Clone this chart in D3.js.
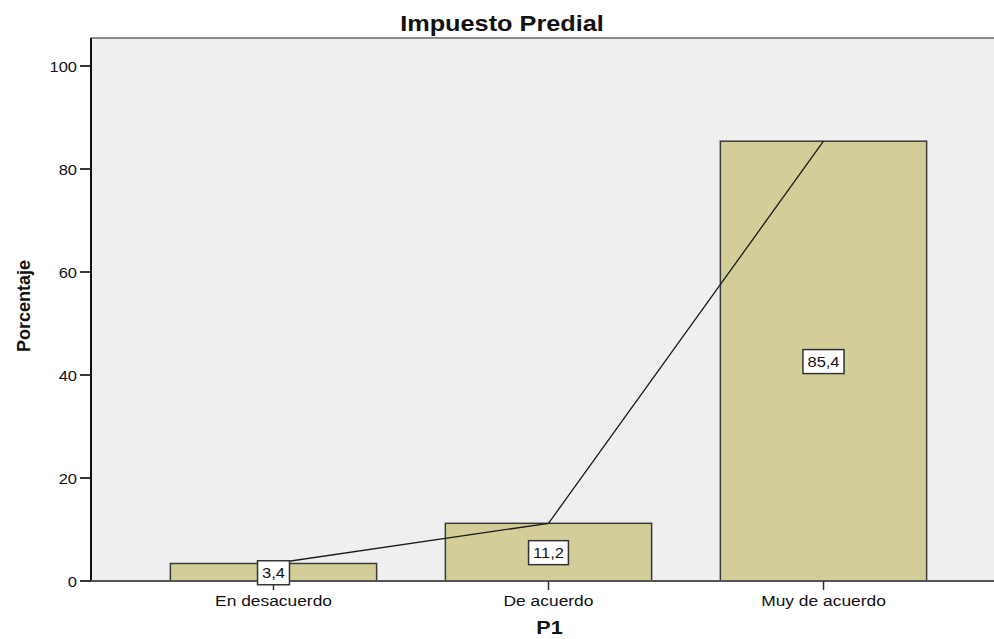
<!DOCTYPE html>
<html><head><meta charset="utf-8">
<script src="https://cdn.jsdelivr.net/npm/d3@7"></script>
<style>body{margin:0;background:#fff}svg{display:block}text{font-family:"Liberation Sans",Arial,sans-serif;fill:#111}</style>
</head><body><svg id="c" width="994" height="639"></svg>
<script>
const categories = ["En desacuerdo", "De acuerdo", "Muy de acuerdo"];
const values = [3.4, 11.2, 85.4];
const valueLabels = ["3,4", "11,2", "85,4"];
const yTicks = [0, 20, 40, 60, 80, 100];
const title = "Impuesto Predial";
const xTitle = "P1";
const yTitle = "Porcentaje";

const svg = d3.select("#c");
const L = 91, R = 994, T = 38, B = 581;
const y = d3.scaleLinear().domain([0, 100]).range([B, 66]);
const x = d3.scaleBand().domain(categories).range([136, 961]).paddingInner(0.25).paddingOuter(0.125);

function txt(g, s, px, py, size, weight, sx, anchor, rot) {
  return g.append("text").attr("transform", `translate(${px},${py}) scale(${sx},1)` + (rot ? ` rotate(${rot})` : ""))
    .attr("text-anchor", anchor).style("font-size", size + "px").style("font-weight", weight).text(s);
}

// plot background
svg.append("rect").attr("x", L).attr("y", T).attr("width", R - L).attr("height", B - T).attr("fill", "#efefef");
svg.append("line").attr("x1", L).attr("x2", R).attr("y1", T).attr("y2", T).attr("stroke", "#8a8a8a").attr("stroke-width", 2);

// bars
svg.append("g").selectAll("rect").data(values).join("rect")
  .attr("x", (d, i) => x(categories[i])).attr("width", x.bandwidth())
  .attr("y", d => y(d)).attr("height", d => B - y(d))
  .attr("fill", "#d3ce98").attr("stroke", "#3a3a3a").attr("stroke-width", 1.5);

// line
const line = d3.line().x((d, i) => x(categories[i]) + x.bandwidth() / 2).y(d => y(d));
svg.append("path").datum(values).attr("d", line).attr("fill", "none").attr("stroke", "#1a1a1a").attr("stroke-width", 1.3);

// axes
const ya = svg.append("g");
ya.append("line").attr("x1", L).attr("x2", L).attr("y1", T).attr("y2", B + 1).attr("stroke", "#111").attr("stroke-width", 2);
yTicks.forEach(t => {
  ya.append("line").attr("x1", L - 11).attr("x2", L).attr("y1", y(t)).attr("y2", y(t)).attr("stroke", "#222").attr("stroke-width", 1.8);
  txt(ya, String(t), L - 14, y(t) + 5.5, 15, "normal", 1.1, "end");
});
const xa = svg.append("g");
xa.append("line").attr("x1", L).attr("x2", R).attr("y1", B).attr("y2", B).attr("stroke", "#555").attr("stroke-width", 2);
categories.forEach(c => {
  const cx = x(c) + x.bandwidth() / 2;
  xa.append("line").attr("x1", cx).attr("x2", cx).attr("y1", B).attr("y2", B + 9).attr("stroke", "#333").attr("stroke-width", 1.5);
  txt(xa, c, cx, 606, 14.5, "normal", 1.2, "middle");
});

// value labels
const lg = svg.append("g");
values.forEach((v, i) => {
  const cx = x(categories[i]) + x.bandwidth() / 2;
  const cy = y(v / 2) + 0.5;
  const g = lg.append("g");
  const bx = g.append("rect");
  const t = txt(g, valueLabels[i], cx, cy + 5.5, 15, "normal", 1.1, "middle");
  const w = t.node().getComputedTextLength() * 1.1 + 9;
  bx.attr("x", cx - w / 2).attr("y", cy - 12).attr("width", w).attr("height", 24)
    .attr("fill", "#fff").attr("stroke", "#333").attr("stroke-width", 1.5);
});

// titles
txt(svg, title, 502, 31, 22, "bold", 1.15, "middle");
txt(svg, xTitle, 549.5, 634, 18, "bold", 1.2, "middle");
txt(svg, yTitle, 30, 306, 18, "bold", 1.05, "middle", -90);
</script></body></html>
